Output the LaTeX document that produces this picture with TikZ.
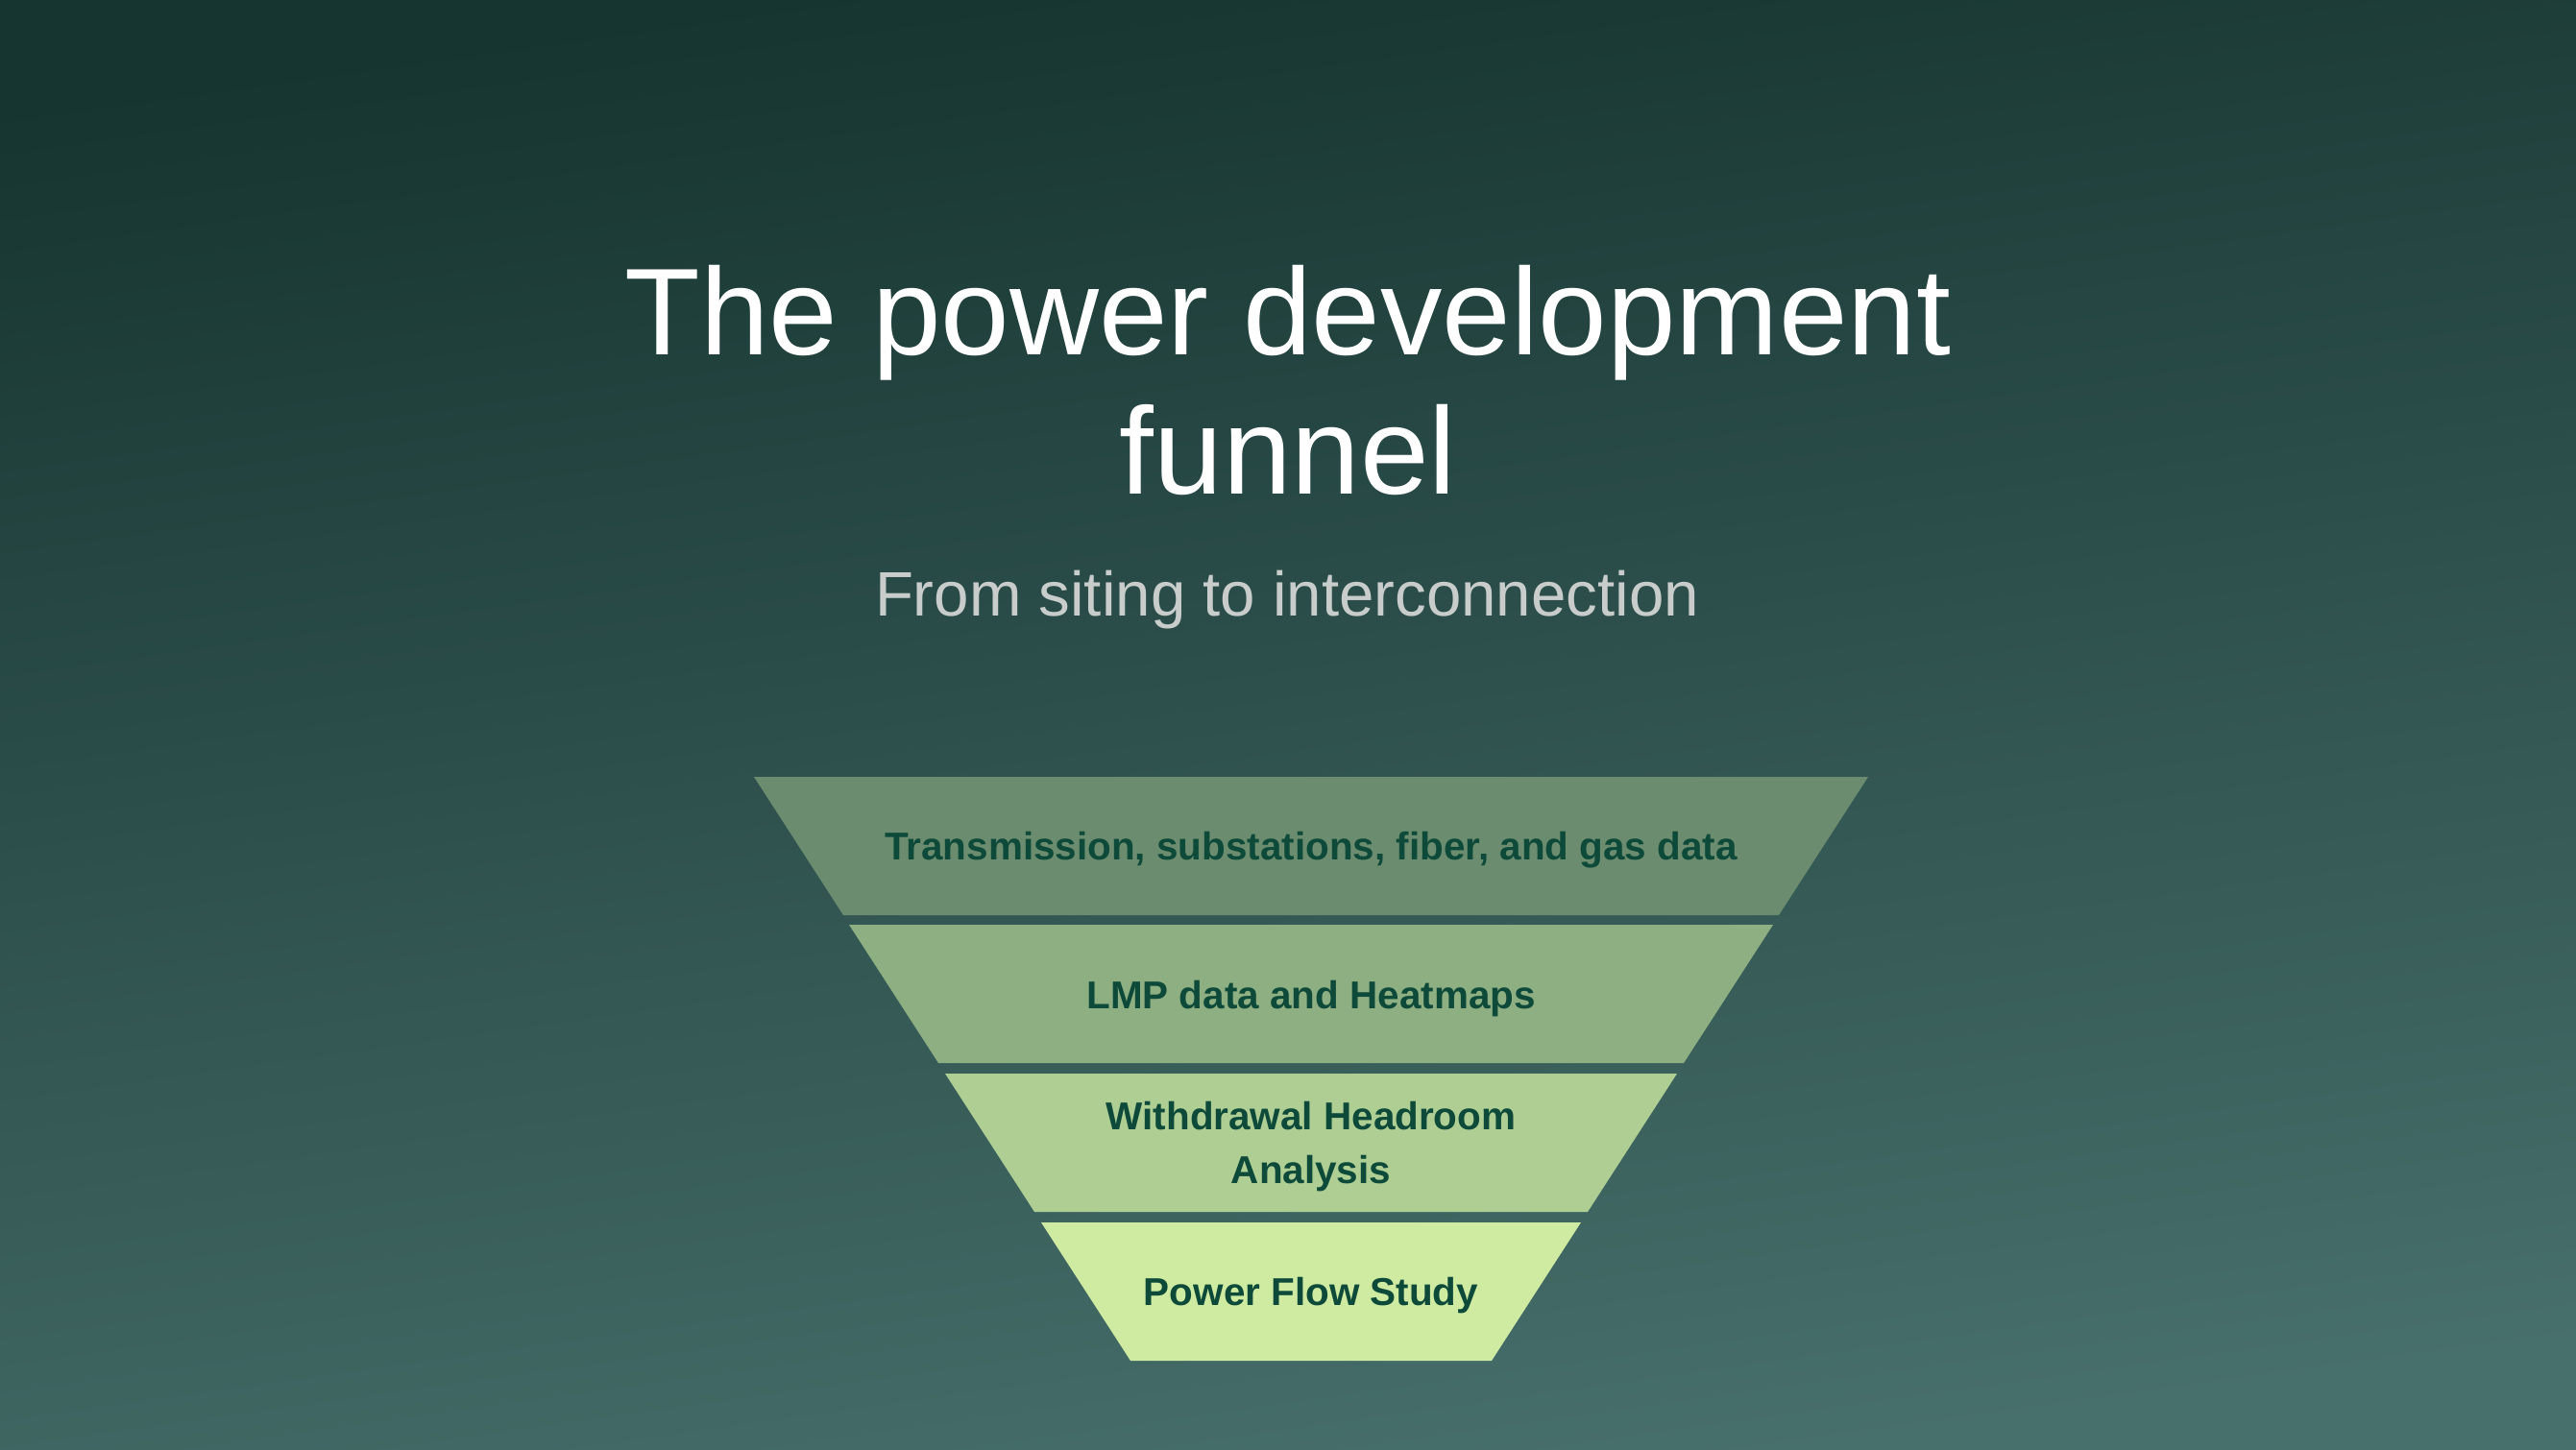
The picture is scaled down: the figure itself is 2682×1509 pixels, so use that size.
\documentclass[tikz,border=0pt]{standalone}
\usepackage{fontspec}
\setmainfont{Liberation Sans}
\usetikzlibrary{positioning}
\definecolor{bgtop}{HTML}{163430}
\definecolor{bgbot}{HTML}{476F6B}
\definecolor{head}{HTML}{FFFFFF}
\definecolor{muted}{HTML}{C8CCCA}
\definecolor{ink}{HTML}{0E4A3A}
\definecolor{stageA}{HTML}{6B8C6E}
\definecolor{stageB}{HTML}{8DAF82}
\definecolor{stageC}{HTML}{AECE93}
\definecolor{stageD}{HTML}{CFEBA1}
\tikzset{
  ttl/.style={text=head, font=\fontsize{36.6}{41}\selectfont, align=center},
  sub/.style={text=muted, font=\fontsize{18.6}{22}\selectfont},
  lab/.style={text=ink, font=\bfseries\fontsize{11.5}{16}\selectfont, align=center},
}

\begin{document}
\begin{tikzpicture}[x=0.01cm, y=-0.01cm]
  \useasboundingbox (0,0) rectangle (2682,1509);
  % background
  \shade[top color=bgtop, bottom color=bgbot, shading angle=8] (0,0) rectangle (2682,1509);

  % heading
  \node[ttl] (title) at (1341,396) {The power development\\funnel};
  \node[sub, anchor=base] (subtitle) at (1340,641) {From siting to interconnection};

  % funnel bands
  \fill[stageA] (785,809) -- (1945,809) -- (1852,953) -- (878,953) -- cycle;
  \fill[stageB] (884,963) -- (1846,963) -- (1753,1107) -- (977,1107) -- cycle;
  \fill[stageC] (984,1118) -- (1746,1118) -- (1653,1262) -- (1077,1262) -- cycle;
  \fill[stageD] (1084,1273) -- (1646,1273) -- (1553,1417) -- (1177,1417) -- cycle;

  \node[lab] (stage1) at (1365,885) {Transmission, substations, fiber, and gas data};
  \node[lab] (stage2) at (1365,1040) {LMP data and Heatmaps};
  \node[lab] (stage3) at (1365,1194) {Withdrawal Headroom\\Analysis};
  \node[lab] (stage4) at (1365,1349) {Power Flow Study};
\end{tikzpicture}
\end{document}
